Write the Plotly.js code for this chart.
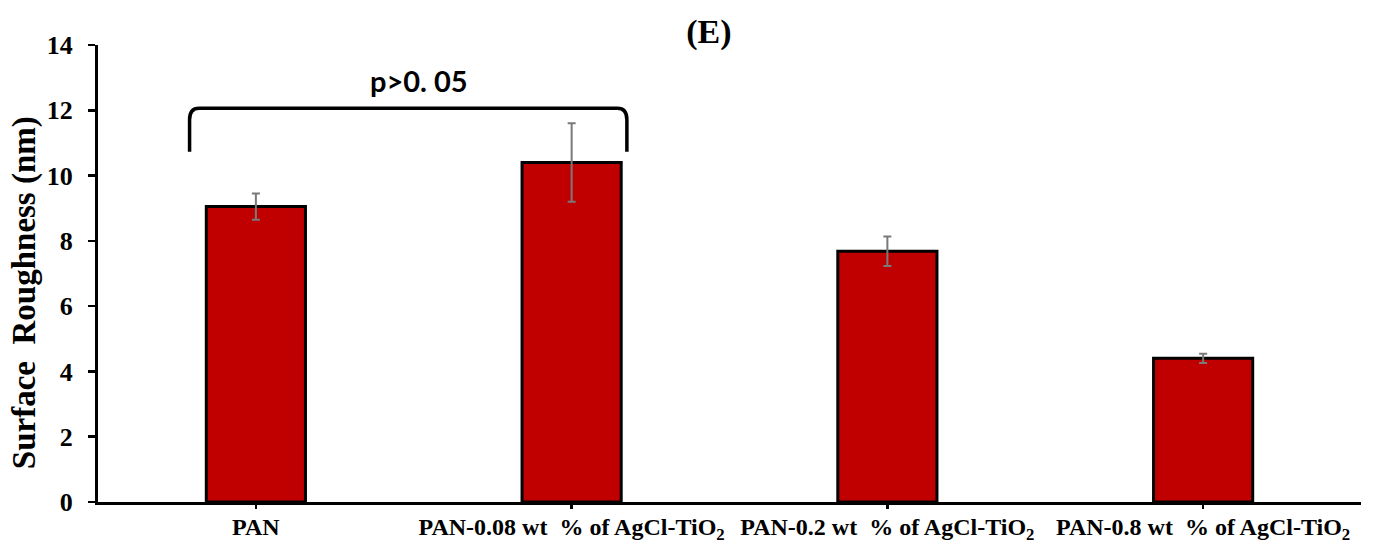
<!DOCTYPE html>
<html>
<head>
<meta charset="utf-8">
<script src="https://cdn.plot.ly/plotly-3.0.1.min.js"></script>
<style>html,body{margin:0;padding:0;background:#fff;}#chart{width:1375px;height:543px;}</style>
</head>
<body>
<div id="chart"></div>
<script>
const categories = [
  "PAN",
  "PAN-0.08 wt\u00a0 % of AgCl-TiO<sub>2</sub>",
  "PAN-0.2 wt\u00a0 % of AgCl-TiO<sub>2</sub>",
  "PAN-0.8 wt\u00a0 % of AgCl-TiO<sub>2</sub>"
];
const roughness = [9.05, 10.4, 7.68, 4.4];
const roughnessErr = [0.4, 1.2, 0.45, 0.14];
const yTickVals = [0, 2, 4, 6, 8, 10, 12, 14];
const yTitle = "Surface\u00a0 Roughness (nm)";
const chartTitle = "(E)";
const sigLabel = "p>0. 05";
const sigFrom = 0, sigTo = 1;   // bracket spans these categories

const serif = 'Liberation Serif, Times New Roman, serif';

// bracket geometry (relative to the categories it joins)
const bOver = 0.21, bTop = 12.06, bEnd = 10.73, bR = 0.35;
const x0 = sigFrom - bOver, x1 = sigTo + 0.175;
const bracketPath =
  `M ${x0} ${bEnd} L ${x0} ${bTop - bR} Q ${x0} ${bTop} ${x0 + 0.03} ${bTop} ` +
  `L ${x1 - 0.03} ${bTop} Q ${x1} ${bTop} ${x1} ${bTop - bR} L ${x1} ${bEnd}`;

const trace = {
  type: 'bar',
  x: [0, 1, 2, 3],
  y: roughness,
  width: 0.314,
  marker: {color: '#C00000', line: {color: '#000000', width: 3}},
  error_y: {type: 'data', array: roughnessErr, visible: true, color: '#7a7a7a', thickness: 2, width: 4},
  hoverinfo: 'y'
};

const layout = {
  width: 1375, height: 543,
  margin: {l: 98, r: 14, t: 45, b: 41},
  paper_bgcolor: '#ffffff', plot_bgcolor: '#ffffff',
  showlegend: false,
  title: {
    text: '<b>' + chartTitle + '</b>',
    font: {family: serif, size: 34, color: '#000'},
    x: 0.5156, xanchor: 'center', y: 0.943, yanchor: 'middle'
  },
  xaxis: {
    range: [-0.5, 3.5],
    tickmode: 'array', tickvals: [0, 1, 2, 3], ticktext: categories.map(c => '<b>' + c + '</b>'),
    showline: true, linecolor: '#000', linewidth: 3,
    ticks: 'outside', ticklen: 4, tickwidth: 2.5, tickcolor: '#000',
    tickson: 'boundaries',
    showgrid: false, zeroline: false,
    ticklabelstandoff: -3,
    tickfont: {family: serif, size: 24, color: '#000'}
  },
  yaxis: {
    range: [0, 14], tickmode: 'array', tickvals: yTickVals,
    ticktext: yTickVals.map(v => '<b>' + v + '</b>'),
    showline: true, linecolor: '#000', linewidth: 3,
    ticks: 'outside', ticklen: 7, tickwidth: 2.5, tickcolor: '#000',
    showgrid: false, zeroline: false,
    ticklabelstandoff: 10,
    tickfont: {family: serif, size: 26, color: '#000'}
  },
  shapes: [{
    type: 'path', xref: 'x', yref: 'y', path: bracketPath,
    line: {color: '#000', width: 3.5}
  }],
  annotations: [{
    xref: 'x', yref: 'y', x: (sigFrom + sigTo) / 2 + 0.016, y: 12.9,
    text: '<b>' + sigLabel + '</b>', showarrow: false,
    font: {family: 'Lato, Open Sans, sans-serif', size: 29, color: '#000'},
    xanchor: 'center', yanchor: 'middle'
  }, {
    xref: 'paper', yref: 'paper', x: 0, y: 0.457, xshift: -74,
    text: '<b>' + yTitle + '</b>', textangle: -90, showarrow: false,
    font: {family: serif, size: 33, color: '#000'},
    xanchor: 'center', yanchor: 'middle'
  }]
};

Plotly.newPlot('chart', [trace], layout, {displayModeBar: false, staticPlot: true});
</script>
</body>
</html>
